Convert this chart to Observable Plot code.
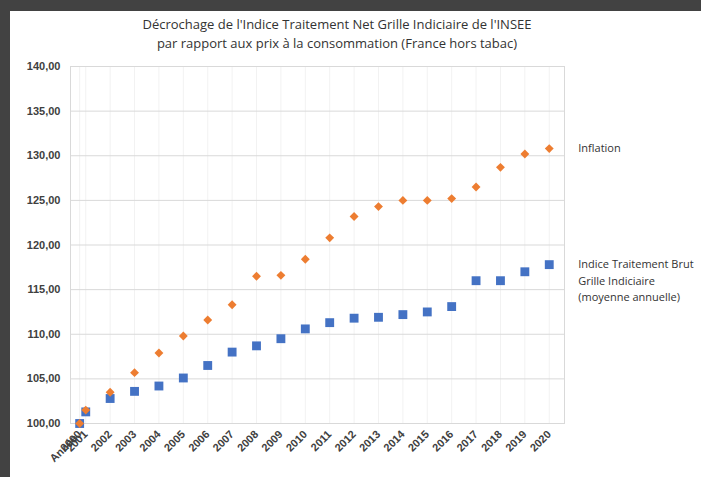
<!DOCTYPE html>
<html>
<head>
<meta charset="utf-8">
<script src="https://cdn.jsdelivr.net/npm/d3@7"></script>
<script src="https://cdn.jsdelivr.net/npm/@observablehq/plot@0.6"></script>
<style>
  body { margin: 0; background: #424242; width: 701px; height: 477px; overflow: hidden; }
  #panel { position: absolute; left: 10px; top: 11px; width: 691px; height: 466px; background: #ffffff; }
  #title { position: absolute; left: 0; top: 3.5px; width: 654px; text-align: center;
           font-family: "Open Sans", sans-serif; font-size: 13px; line-height: 19px; color: #333; }
  #chart { position: absolute; left: 0; top: 44px; }
</style>
</head>
<body>
<div id="panel">
  <div id="title">Décrochage de l'Indice Traitement Net Grille Indiciaire de l'INSEE<br>par rapport aux prix à la consommation (France hors tabac)</div>
  <div id="chart"></div>
</div>
<script>
// Data
const yearLabels = ["2000","2001","2002","2003","2004","2005","2006","2007","2008","2009","2010",
                    "2011","2012","2013","2014","2015","2016","2017","2018","2019","2020"];
const yearPos = [2000.75, 2001, 2002, 2003, 2004, 2005, 2006, 2007, 2008, 2009, 2010,
                 2011, 2012, 2013, 2014, 2015, 2016, 2017, 2018, 2019, 2020];
const inflation = [100.0, 101.5, 103.5, 105.7, 107.9, 109.8, 111.6, 113.3, 116.5, 116.6, 118.4,
                   120.8, 123.2, 124.3, 125.0, 125.0, 125.2, 126.5, 128.7, 130.2, 130.8];
const traitement = [100.0, 101.3, 102.8, 103.6, 104.2, 105.1, 106.5, 108.0, 108.7, 109.5, 110.6,
                    111.3, 111.8, 111.9, 112.2, 112.5, 113.1, 116.0, 116.0, 117.0, 117.8];
const yTicks = [100, 105, 110, 115, 120, 125, 130, 135, 140];
const firstLabelPrefix = "Année";
const seriesLabels = ["Inflation", "Indice Traitement Brut\nGrille Indiciaire\n(moyenne annuelle)"];

const data = yearPos.map((x, i) => ({x, label: yearLabels[i], infl: inflation[i], trait: traitement[i]}));
const labelMap = new Map(yearPos.map((x, i) => [x, yearLabels[i]]));
const last = data[data.length - 1];

const chart = Plot.plot({
  width: 691,
  height: 422,
  marginLeft: 60,
  marginRight: 137,
  marginTop: 11,
  marginBottom: 54,
  style: {fontFamily: "Liberation Sans, Arial, sans-serif", fontSize: "11px", fontWeight: "bold", color: "#404040", background: "transparent"},
  x: {domain: [2000.375, 2020.625]},
  y: {domain: [100, 140]},
  marks: [
    Plot.gridX(yearPos, {stroke: "#f2f2f2", strokeOpacity: 1}),
    Plot.gridY(yTicks, {stroke: "#d9d9d9", strokeOpacity: 1}),
    Plot.frame({stroke: "#d9d9d9"}),
    Plot.axisY(yTicks, {tickSize: 0, tickPadding: 10, tickFormat: d => d.toFixed(2).replace(".", ","), label: null}),
    Plot.axisX(yearPos, {tickSize: 0, tickPadding: 9, tickRotate: -45, tickFormat: d => labelMap.get(d), label: null}),
    Plot.text([yearPos[0]], {x: d => d, text: () => firstLabelPrefix, frameAnchor: "bottom", rotate: -45,
      textAnchor: "end", lineAnchor: "middle", dx: -4, dy: 13, fill: "#404040"}),
    Plot.dot(data, {x: "x", y: "trait", symbol: "square", r: 5, fill: "#4472C4"}),
    Plot.dot(data, {x: "x", y: "infl", symbol: "diamond2", r: 4, fill: "#ED7D31"}),
    Plot.text([last], {x: "x", y: "infl", text: () => seriesLabels[0], dx: 29, textAnchor: "start",
      fontFamily: "Open Sans, sans-serif", fontWeight: "normal", fontSize: 11, fill: "#333"}),
    Plot.text([last], {x: "x", y: "trait", text: () => seriesLabels[1], dx: 29, dy: -8, textAnchor: "start",
      lineAnchor: "top", lineHeight: 1.5, fontFamily: "Open Sans, sans-serif", fontWeight: "normal", fontSize: 11, fill: "#333"})
  ]
});
document.getElementById("chart").appendChild(chart);
</script>
</body>
</html>
